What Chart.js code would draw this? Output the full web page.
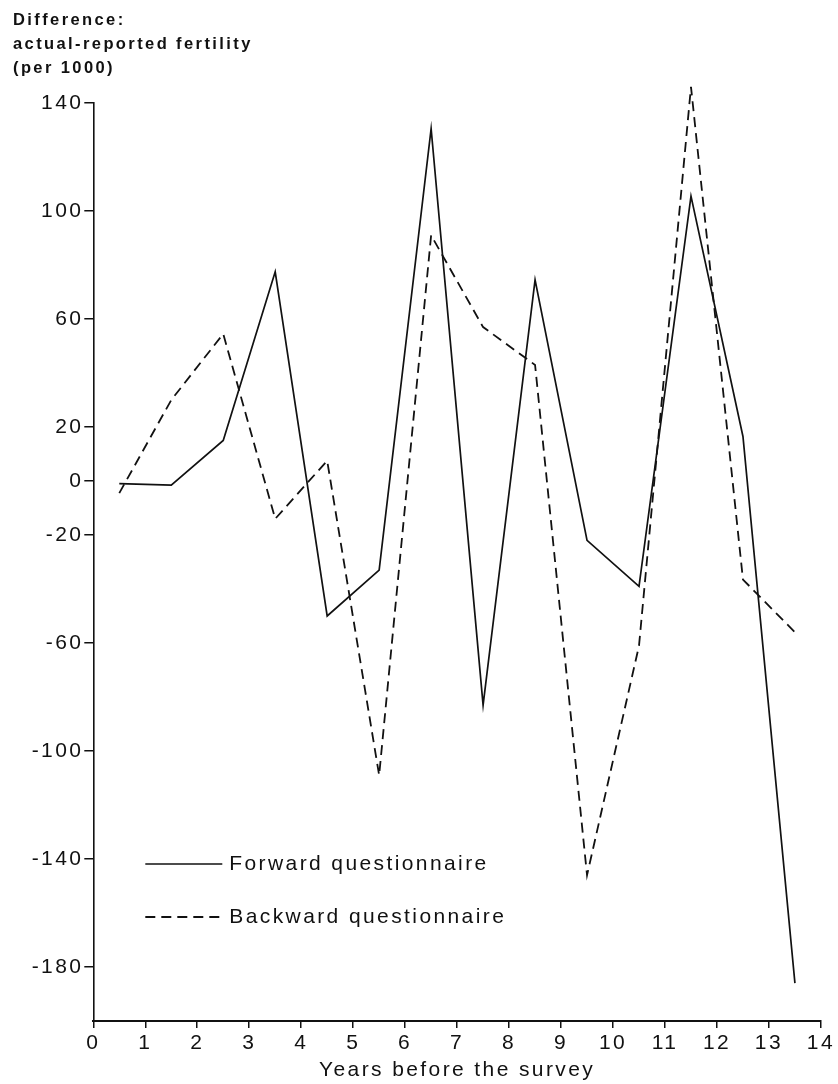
<!DOCTYPE html>
<html>
<head>
<meta charset="utf-8">
<script src="https://cdn.jsdelivr.net/npm/chart.js@4.4.1/dist/chart.umd.min.js"></script>
<style>
html,body{margin:0;padding:0;background:#ffffff;}
canvas{display:block;}
</style>
</head>
<body>
<canvas id="c" width="838" height="1084"></canvas>
<script>
// ---- data ----
const years = [0.5, 1.5, 2.5, 3.5, 4.5, 5.5, 6.5, 7.5, 8.5, 9.5, 10.5, 11.5, 12.5, 13.5];
const forwardValues = [-1, -1.5, 15, 77.5, -50, -33, 130.5, -83, 74.5, -22, -39, 105.5, 16.5, -186];
const backwardValues = [-4.5, 30, 54.5, -14, 7.5, -109, 91, 57, 43, -146, -61, 146, -36.5, -56];
const yTickValues = [140, 100, 60, 20, 0, -20, -60, -100, -140, -180];
const xTickValues = [0, 1, 2, 3, 4, 5, 6, 7, 8, 9, 10, 11, 12, 13, 14];
const seriesLabels = ['Forward questionnaire', 'Backward questionnaire'];
const titleLines = ['Difference:', 'actual-reported fertility', '(per 1000)'];
const xAxisTitle = 'Years before the survey';

const FONT = "'Liberation Sans', Arial, Helvetica, sans-serif";
const INK = '#111111';
const SPACING = '2.4px';

const toPoints = vals => years.map((x, i) => ({x: x, y: vals[i]}));

const spacingPlugin = {
  id: 'letterSpacing',
  beforeLayout(chart) { chart.ctx.letterSpacing = SPACING; },
  beforeDraw(chart) { chart.ctx.letterSpacing = SPACING; }
};

const legendPlugin = {
  id: 'insideLegend',
  afterDraw(chart) {
    const {ctx, chartArea} = chart;
    const x0 = chartArea.left + 52;
    const lineLen = 77;
    const rowsY = [chartArea.bottom - 157, chartArea.bottom - 104];
    ctx.save();
    ctx.letterSpacing = SPACING;
    chart.data.datasets.forEach((ds, i) => {
      const y = rowsY[i];
      ctx.beginPath();
      ctx.setLineDash(ds.borderDash || []);
      ctx.lineWidth = ds.borderWidth;
      ctx.strokeStyle = ds.borderColor;
      ctx.moveTo(x0, y);
      ctx.lineTo(x0 + lineLen, y);
      ctx.stroke();
      ctx.setLineDash([]);
      ctx.fillStyle = INK;
      ctx.font = '21px ' + FONT;
      ctx.textBaseline = 'middle';
      ctx.textAlign = 'left';
      ctx.fillText(ds.label, x0 + lineLen + 7, y);
    });
    ctx.restore();
  }
};

new Chart(document.getElementById('c'), {
  type: 'line',
  data: {
    datasets: [
      {
        label: seriesLabels[0],
        data: toPoints(forwardValues),
        borderColor: INK,
        borderWidth: 1.7,
        pointRadius: 0,
        tension: 0,
        fill: false,
        clip: false
      },
      {
        label: seriesLabels[1],
        data: toPoints(backwardValues),
        borderColor: INK,
        borderWidth: 1.8,
        borderDash: [10, 6],
        pointRadius: 0,
        tension: 0,
        fill: false,
        clip: false
      }
    ]
  },
  options: {
    responsive: false,
    animation: false,
    devicePixelRatio: 1,
    layout: { padding: { left: 13, right: 14, top: 0, bottom: 0 } },
    plugins: {
      legend: { display: false },
      tooltip: { enabled: false },
      title: {
        display: true,
        text: titleLines,
        align: 'start',
        color: INK,
        font: { family: FONT, size: 16.5, weight: 'bold', lineHeight: 24 / 16.5 },
        padding: { top: 8.8, bottom: 22.2 }
      }
    },
    scales: {
      x: {
        type: 'linear',
        min: 0,
        max: 14,
        afterBuildTicks: s => { s.ticks = xTickValues.map(v => ({value: v})); },
        afterFit: s => { s.height = 63; },
        grid: { display: true, drawOnChartArea: false, drawTicks: true, tickLength: 7, color: INK, lineWidth: 1.5 },
        border: { display: true, color: INK, width: 2 },
        ticks: { color: INK, font: { family: FONT, size: 21 }, padding: 3, maxRotation: 0, autoSkip: false },
        title: { display: true, text: xAxisTitle, color: INK, font: { family: FONT, size: 21 }, padding: { top: 0, bottom: 1 } }
      },
      y: {
        type: 'linear',
        min: -200,
        max: 140,
        afterBuildTicks: s => { s.ticks = yTickValues.map(v => ({value: v})); },
        afterFit: s => { s.width = 80.3; },
        grid: { display: true, drawOnChartArea: false, drawTicks: true, tickLength: 9, color: INK, lineWidth: 1.5 },
        border: { display: true, color: INK, width: 1.6 },
        ticks: { color: INK, font: { family: FONT, size: 21 }, padding: 1, autoSkip: false, callback: v => String(v) }
      }
    }
  },
  plugins: [spacingPlugin, legendPlugin]
});
</script>
</body>
</html>
